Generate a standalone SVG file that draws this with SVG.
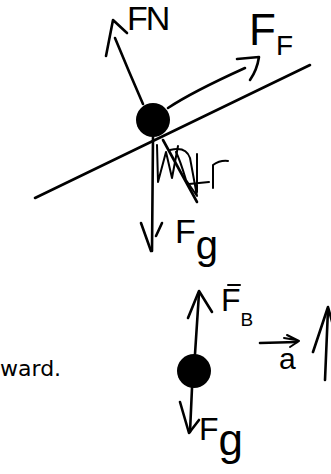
<svg xmlns="http://www.w3.org/2000/svg" width="331" height="474" viewBox="0 0 331 474">
<style>
.ln{fill:none;stroke:#000;stroke-width:2.6;stroke-linecap:round;stroke-linejoin:round}
.th{fill:none;stroke:#000;stroke-width:2;stroke-linecap:round;stroke-linejoin:round}
.hw{font-family:"Liberation Sans",Arial,sans-serif;fill:#000}
.doc{font-family:"DejaVu Sans",Verdana,sans-serif;fill:#000}
</style>
<rect width="331" height="474" fill="#fff"/>
<g id="incline">
<path class="ln" d="M35,198 L310,65"/>
</g>
<g id="connectors">
<path class="ln" d="M143,104 Q129,72 115,38"/>
<path class="ln" d="M106,56 L113,20 L127,33"/>
<path class="ln" d="M168,108 Q192,92 245,68"/>
<path class="ln" d="M237,59 L259,57 Q257,70 250,80"/>
<path class="ln" d="M153,137 L152,251"/>
<path class="ln" d="M141,223 L151,251"/>
<path class="ln" d="M156,236 L162,223"/>
<path class="ln" d="M195,354 L199,293"/>
<path class="ln" d="M188,318 L199,291 L212,312"/>
<path class="ln" d="M192,388 L190,432"/>
<path class="ln" d="M180,402 L189,433 L199,420"/>
<path class="ln" d="M325,380 L328,309"/>
<path class="ln" d="M313,352 L328,307 L333,325"/>
<path class="ln" d="M260,343 L297,342"/>
<path class="th" d="M287,335 L299,341 L290,347 M284,338 L296,340"/>
</g>
<g id="scribble">
<path class="th" d="M157,145 L158,182 L166,152 L172,178 L178,146"/>
<path class="ln" d="M163,140 L197,202"/>
<path class="th" d="M170,150 Q186,146 190,158 L197,196 L186,180 Q180,160 176,152"/>
<path class="th" d="M197,154 L197,192 M189,184 L209,182"/>
<path class="th" d="M213,188 L213,165 Q220,160 228,161"/>
</g>
<g id="ball-incline">
<circle cx="153" cy="120" r="17" fill="#000"/>
</g>
<g id="ball-fluid">
<circle cx="194" cy="371" r="17" fill="#000"/>
</g>
<g id="label-FN">
<text class="hw" x="127" y="30" font-size="34" letter-spacing="-2">FN</text>
</g>
<g id="label-FF">
<text class="hw" x="249" y="45" font-size="44">F<tspan font-size="28" dy="10">F</tspan></text>
</g>
<g id="label-Fg-1">
<text class="hw" x="175" y="243" font-size="34">F<tspan font-size="40" dy="16">g</tspan></text>
</g>
<g id="label-FB">
<path class="th" d="M228,285 L240,285"/>
<text class="hw" x="221" y="311" font-size="32">F<tspan font-size="19" dy="15">B</tspan></text>
</g>
<g id="label-Fg-2">
<text class="hw" x="199" y="440" font-size="32">F<tspan font-size="44" dy="15">g</tspan></text>
</g>
<g id="label-a">
<text class="hw" x="279" y="369" font-size="30">a</text>
</g>
<g id="doc-text">
<text class="doc" x="0" y="376" font-size="22">ward.</text>
</g>
</svg>
